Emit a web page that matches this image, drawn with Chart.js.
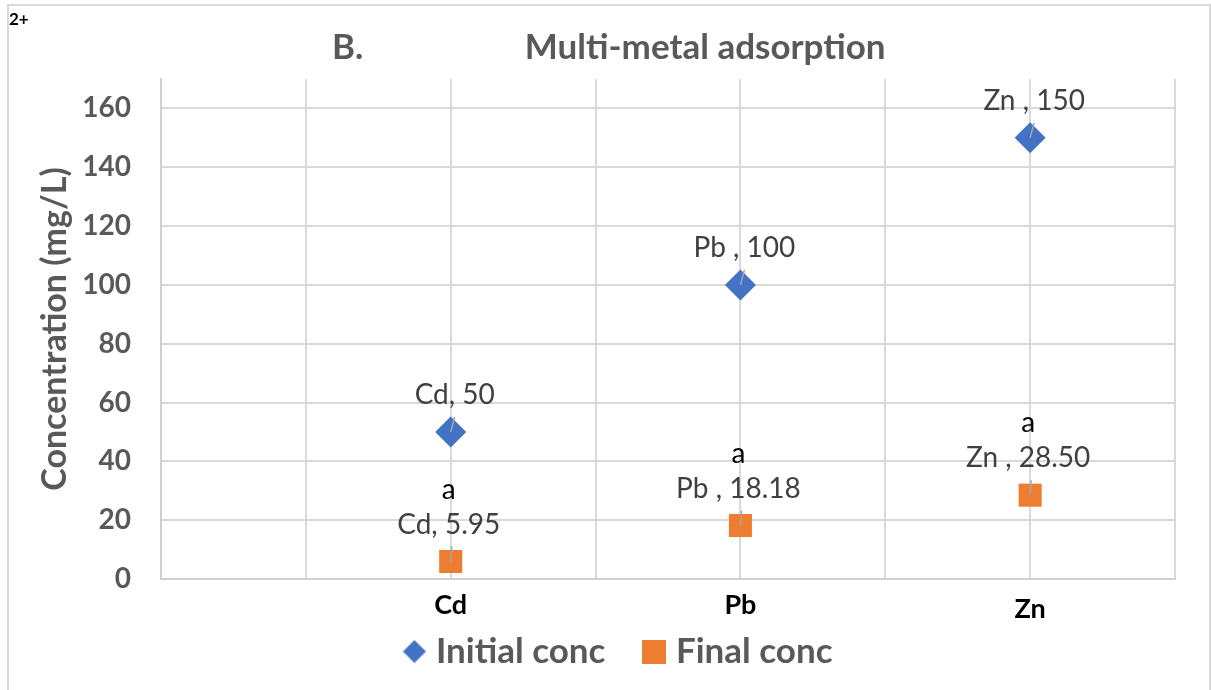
<!DOCTYPE html>
<html>
<head>
<meta charset="utf-8">
<script src="https://cdn.jsdelivr.net/npm/chart.js@4.4.0/dist/chart.umd.min.js"></script>
<style>
  html, body { margin: 0; padding: 0; background: #fff; }
  #wrap { width: 1211px; height: 690px; }
</style>
</head>
<body>
<div id="wrap"><canvas id="myChart" width="1211" height="690"></canvas></div>
<script>
const categories = ['Cd', 'Pb', 'Zn'];
const initialConc = [50, 100, 150];
const finalConc = [5.95, 18.18, 28.50];
const initialLabels = ['Cd, 50', 'Pb , 100', 'Zn , 150'];
const finalLabels = ['Cd, 5.95', 'Pb , 18.18', 'Zn , 28.50'];
const finalLetters = ['a', 'a', 'a'];
const yTicks = [0, 20, 40, 60, 80, 100, 120, 140, 160];

const FONT = 'Lato, "Open Sans", sans-serif';
const GREY = '#595959';
const BLUE = '#4472C4';
const ORANGE = '#ED7D31';

// points sit at x = 1, 2, 3 on a 0..3.5 axis, gridlines every 0.5
const toPoints = (vals) => vals.map((v, i) => ({ x: i + 1, y: v }));

// small marker images for the legend (diamond and square, about 24px)
function legendMarker(shape, color) {
    const c = document.createElement('canvas');
    c.width = 24;
    c.height = 24;
    const g = c.getContext('2d');
    g.fillStyle = color;
    if (shape === 'diamond') {
        g.beginPath();
        g.moveTo(12, 0.5);
        g.lineTo(23.5, 12);
        g.lineTo(12, 23.5);
        g.lineTo(0.5, 12);
        g.closePath();
        g.fill();
    } else {
        g.fillRect(0, 0, 24, 24);
    }
    return c;
}
const legendMarkers = [legendMarker('diamond', BLUE), legendMarker('square', ORANGE)];

// labels above the markers with a short leader line, plus the category names under the axis
const pointLabels = {
    id: 'pointLabels',
    afterDatasetsDraw(chart) {
        const ctx = chart.ctx;
        const sets = [
            { meta: chart.getDatasetMeta(0), text: initialLabels, letters: null },
            { meta: chart.getDatasetMeta(1), text: finalLabels, letters: finalLetters }
        ];
        ctx.save();
        ctx.textAlign = 'center';
        ctx.textBaseline = 'middle';
        sets.forEach(s => {
            s.meta.data.forEach((pt, i) => {
                const lx = pt.x + (s.letters ? -2 : 4);
                const ly = pt.y - 37;
                ctx.strokeStyle = '#a6a6a6';
                ctx.lineWidth = 1.5;
                ctx.beginPath();
                ctx.moveTo(pt.x, pt.y);
                ctx.lineTo(pt.x + (lx - pt.x) * 0.5 + 2, pt.y - 15);
                ctx.stroke();
                ctx.font = '28px ' + FONT;
                ctx.fillStyle = '#404040';
                ctx.fillText(s.text[i], lx, ly);
                if (s.letters) {
                    ctx.fillStyle = '#000';
                    ctx.fillText(s.letters[i], lx, ly - 35);
                }
            });
        });
        const xs = chart.scales.x;
        ctx.font = 'bold 27px ' + FONT;
        ctx.fillStyle = '#000';
        categories.forEach((c, i) => {
            const y = chart.chartArea.bottom + 26 + (i === 2 ? 4 : 0);
            ctx.fillText(c, xs.getPixelForValue(i + 1), y);
        });
        ctx.restore();
    }
};

// white page, light frame and the stray "2+" in the corner
const frame = {
    id: 'frame',
    beforeDraw(chart) {
        const ctx = chart.ctx;
        ctx.save();
        ctx.fillStyle = '#fff';
        ctx.fillRect(0, 0, chart.width, chart.height);
        ctx.strokeStyle = '#d9d9d9';
        ctx.lineWidth = 2;
        ctx.strokeRect(8, 5, 1202, 700);
        ctx.fillStyle = '#000';
        ctx.font = 'bold 17px ' + FONT;
        ctx.textBaseline = 'middle';
        ctx.fillText('2+', 9, 20);
        ctx.restore();
    }
};

const config = {
    type: 'scatter',
    data: {
        datasets: [{
            label: 'Initial conc',
            data: toPoints(initialConc),
            pointStyle: 'rectRot',
            pointRadius: 15.5,
            pointHoverRadius: 15.5,
            backgroundColor: BLUE,
            borderColor: BLUE,
            borderWidth: 0
        }, {
            label: 'Final conc',
            data: toPoints(finalConc),
            pointStyle: 'rect',
            pointRadius: 16.3,
            pointHoverRadius: 16.3,
            backgroundColor: ORANGE,
            borderColor: ORANGE,
            borderWidth: 0
        }]
    },
    options: {
        responsive: false,
        animation: false,
        layout: { padding: { left: 68, right: 36, top: 0, bottom: 11 } },
        plugins: {
            title: {
                display: true,
                text: 'B.                   Multi-metal adsorption   ',
                color: GREY,
                font: { family: FONT, size: 35, weight: 'bold' },
                padding: { top: 27, bottom: 10 }
            },
            legend: {
                position: 'bottom',
                labels: {
                    usePointStyle: true,
                    boxHeight: 19,
                    boxWidth: 8,
                    padding: 45,
                    color: GREY,
                    font: { family: FONT, size: 35, weight: 'bold' },
                    generateLabels(chart) {
                        const items = Chart.defaults.plugins.legend.labels.generateLabels(chart);
                        items.forEach((it, i) => { it.pointStyle = legendMarkers[i]; });
                        return items;
                    }
                }
            },
            tooltip: { enabled: false }
        },
        scales: {
            x: {
                type: 'linear',
                min: 0,
                max: 3.5,
                afterBuildTicks(axis) {
                    axis.ticks = [0, 0.5, 1, 1.5, 2, 2.5, 3, 3.5].map(v => ({ value: v }));
                },
                afterFit(axis) { axis.height = 10; },
                grid: { color: '#d9d9d9', lineWidth: 2, drawTicks: false },
                border: { color: '#d0d0d0', width: 2 },
                ticks: { display: false }
            },
            y: {
                min: 0,
                max: 170,
                afterBuildTicks(axis) {
                    axis.ticks = yTicks.map(v => ({ value: v }));
                },
                afterFit(axis) { axis.width = 161 - 68; },
                grid: { color: '#d9d9d9', lineWidth: 2, drawTicks: false },
                border: { color: '#d0d0d0', width: 2 },
                ticks: {
                    padding: 30,
                    color: GREY,
                    font: { family: FONT, size: 28, weight: 'bold' }
                },
                title: {
                    display: true,
                    text: 'Concentration (mg/L)',
                    color: GREY,
                    font: { family: FONT, size: 34, weight: 'bold' },
                    padding: { top: -33, bottom: 0 }
                }
            }
        }
    },
    plugins: [frame, pointLabels]
};

const myChart = new Chart(document.getElementById('myChart'), config);
</script>
</body>
</html>
